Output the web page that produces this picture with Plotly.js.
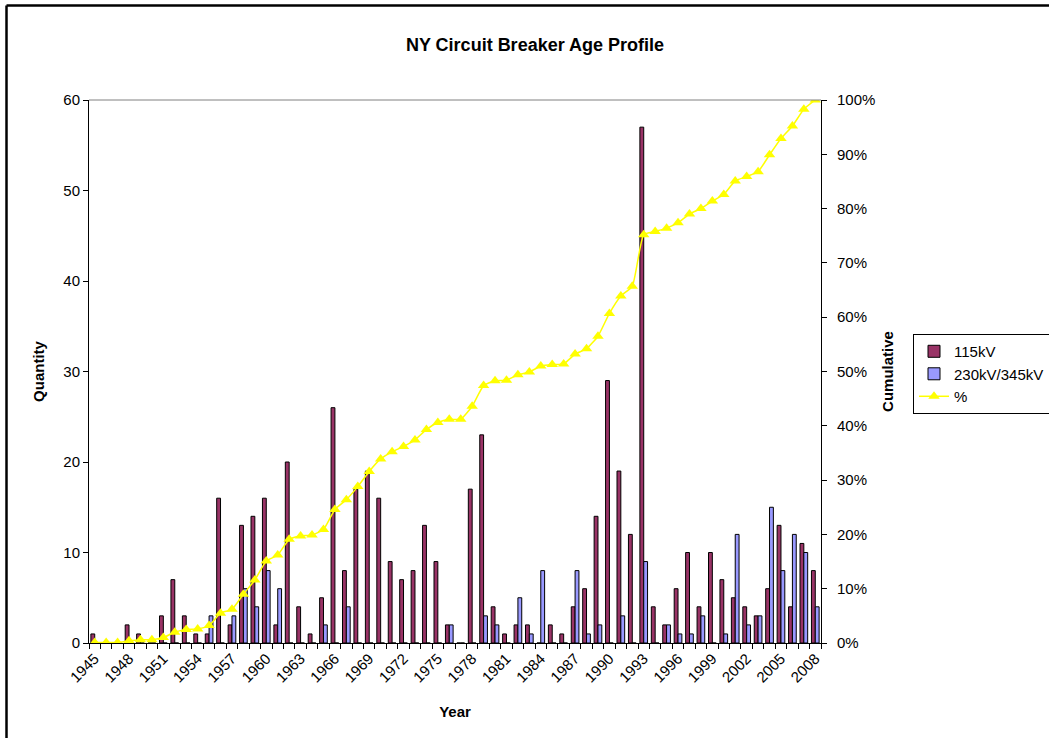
<!DOCTYPE html>
<html>
<head>
<meta charset="utf-8">
<script src="https://cdn.plot.ly/plotly-3.0.1.min.js"></script>
<style>
  html, body { margin: 0; padding: 0; background: #fff; }
  #chart { width: 1049px; height: 738px; }
</style>
</head>
<body>
<div id="chart"></div>
<script>
// Categories (years)
var years = [1945,1946,1947,1948,1949,1950,1951,1952,1953,1954,
             1955,1956,1957,1958,1959,1960,1961,1962,1963,1964,
             1965,1966,1967,1968,1969,1970,1971,1972,1973,1974,
             1975,1976,1977,1978,1979,1980,1981,1982,1983,1984,
             1985,1986,1987,1988,1989,1990,1991,1992,1993,1994,
             1995,1996,1997,1998,1999,2000,2001,2002,2003,2004,
             2005,2006,2007,2008];

// Quantity of 115kV breakers per year
var kv115 = [1,0,0,2,1,0,3,7,3,1,
             1,16,2,13,14,16,2,20,4,1,
             5,26,8,17,19,16,9,7,8,13,
             9,2,0,17,23,4,1,2,2,0,
             2,1,4,6,14,29,19,12,57,4,
             2,6,10,4,10,7,5,4,3,6,
             13,4,11,8];

// Quantity of 230kV/345kV breakers per year
var kv230 = [0,0,0,0,0,0,0,0,0,0,
             3,0,3,6,4,8,6,0,0,0,
             2,0,4,0,0,0,0,0,0,0,
             0,2,0,0,3,2,0,5,1,8,
             0,0,8,1,2,0,3,0,9,0,
             2,1,1,3,0,1,12,2,3,15,
             8,12,10,4];

// Cumulative percentage
var pct = [0.1,0.1,0.1,0.4,0.6,0.6,1.0,2.0,2.5,2.6,
           3.2,5.5,6.2,9.0,11.6,15.1,16.2,19.1,19.7,19.9,
           20.9,24.6,26.4,28.8,31.6,33.9,35.2,36.2,37.4,39.3,
           40.6,41.2,41.2,43.6,47.4,48.3,48.4,49.4,49.9,51.0,
           51.3,51.4,53.2,54.2,56.5,60.7,63.9,65.7,75.2,75.8,
           76.4,77.4,79.0,80.0,81.4,82.6,85.1,85.9,86.8,89.9,
           92.9,95.2,98.3,100];

// Tick labels
var xTickVals = [1945,1948,1951,1954,1957,1960,1963,1966,1969,1972,1975,1978,1981,1984,1987,1990,1993,1996,1999,2002,2005,2008];
var xTickText = ['1945','1948','1951','1954','1957','1960','1963','1966','1969','1972','1975','1978','1981','1984','1987','1990','1993','1996','1999','2002','2005','2008'];
var yTickVals = [0,10,20,30,40,50,60];
var y2TickVals = [0,10,20,30,40,50,60,70,80,90,100];
var y2TickText = ['0%','10%','20%','30%','40%','50%','60%','70%','80%','90%','100%'];

var FONT = "Liberation Sans, Arial, Helvetica, sans-serif";

var traces = [
  {
    type: 'bar', name: '115kV', x: years, y: kv115,
    marker: { color: '#993366', line: { color: '#000000', width: 1 } }
  },
  {
    type: 'bar', name: '230kV/345kV', x: years, y: kv230,
    marker: { color: '#9999FF', line: { color: '#000000', width: 1 } }
  },
  {
    type: 'scatter', mode: 'lines+markers', name: '%', x: years, y: pct, yaxis: 'y2',
    line: { color: '#FFFF00', width: 1.5, shape: 'spline', smoothing: 0.5 },
    marker: { symbol: 'triangle-up', size: 10, color: '#FFFF00' }
  }
];

var layout = {
  width: 1049, height: 738,
  paper_bgcolor: '#ffffff', plot_bgcolor: '#ffffff',
  margin: { l: 89, r: 228, t: 100, b: 95, autoexpand: false },
  font: { family: FONT, size: 15, color: '#000' },
  title: {
    text: '<b>NY Circuit Breaker Age Profile</b>',
    font: { family: FONT, size: 18, color: '#000' },
    x: 0.51, xanchor: 'center', y: 0.939, yanchor: 'middle'
  },
  barmode: 'group', bargap: 0.33, bargroupgap: 0,
  showlegend: true,
  legend: {
    x: 1.1257, xanchor: 'left', y: 0.569, yanchor: 'top',
    bordercolor: '#000', borderwidth: 1, bgcolor: '#fff',
    font: { family: FONT, size: 15, color: '#000' },
    traceorder: 'normal', tracegroupgap: 0
  },
  xaxis: {
    type: 'linear', range: [1944.5, 2008.5],
    tickmode: 'array', tickvals: xTickVals, ticktext: xTickText,
    tickangle: -45, ticks: '', showgrid: false, zeroline: false,
    showline: true, linecolor: '#000', linewidth: 1,
    tickfont: { family: FONT, size: 15, color: '#000' },
    minor: { ticks: 'outside', dtick: 1, tick0: 1944.5, ticklen: 5, tickcolor: '#000', tickwidth: 1, showgrid: false },
    title: { text: '<b>Year</b>', font: { family: FONT, size: 15, color: '#000' }, standoff: 21 },
    automargin: false, fixedrange: true
  },
  yaxis: {
    range: [0, 60], tickmode: 'array', tickvals: yTickVals,
    ticks: 'outside', ticklen: 5, tickcolor: '#000',
    showgrid: false, zeroline: false,
    showline: true, linecolor: '#000', linewidth: 1,
    tickfont: { family: FONT, size: 15, color: '#000' },
    title: { text: '<b>Quantity</b>', font: { family: FONT, size: 15, color: '#000' }, standoff: 15 },
    automargin: false, fixedrange: true
  },
  yaxis2: {
    overlaying: 'y', side: 'right', range: [0, 100],
    tickmode: 'array', tickvals: y2TickVals, ticktext: y2TickText,
    ticks: 'outside', ticklen: 5, tickcolor: '#000', ticklabelstandoff: 7,
    showgrid: false, zeroline: false,
    showline: true, linecolor: '#000', linewidth: 1,
    tickfont: { family: FONT, size: 15, color: '#000' },
    title: { text: '<b>Cumulative</b>', font: { family: FONT, size: 15, color: '#000' }, standoff: 8 },
    automargin: false, fixedrange: true
  },
  shapes: [
    { type: 'line', xref: 'paper', yref: 'paper', x0: 0, x1: 1, y0: 1, y1: 1, line: { color: '#808080', width: 1 } },
    { type: 'line', xref: 'paper', yref: 'paper', x0: -0.1127, x1: -0.1127, y0: 1.174, y1: -0.3, line: { color: '#000', width: 2.5 } },
    { type: 'line', xref: 'paper', yref: 'paper', x0: -0.1127, x1: 1.5, y0: 1.174, y1: 1.174, line: { color: '#000', width: 2.5 } }
  ]
};

Plotly.newPlot('chart', traces, layout, { displayModeBar: false, staticPlot: true });
</script>
</body>
</html>
